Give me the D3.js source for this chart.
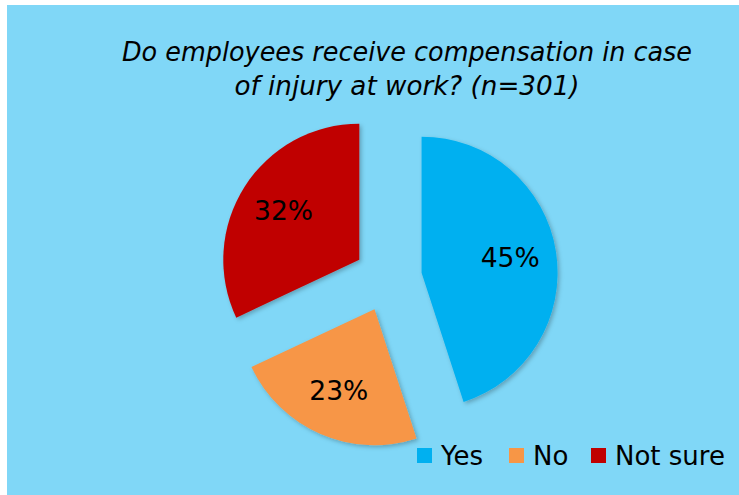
<!DOCTYPE html>
<html>
<head>
<meta charset="utf-8">
<script src="https://cdn.jsdelivr.net/npm/d3@7"></script>
<style>
    body { margin: 0; background: #fff; }
    text { font-family: "DejaVu Sans", Verdana, sans-serif; fill: #000; }
</style>
</head>
<body>
<div id="chart"></div>
<script>
// data
const categories = ['Yes', 'No', 'Not sure'];
const shares = [45, 23, 32];
const colors = ['#00b0f0', '#f79646', '#c00000'];
const titleLines = ['Do employees receive compensation in case', 'of injury at work? (n=301)'];

const width = 739, height = 495;

const svg = d3.select('#chart').append('svg')
    .attr('width', width)
    .attr('height', height);

// soft shadow under the slices
const shadow = svg.append('defs').append('filter')
    .attr('id', 'shadow')
    .attr('x', '-20%').attr('y', '-20%')
    .attr('width', '140%').attr('height', '140%');
shadow.append('feDropShadow')
    .attr('dx', 2).attr('dy', 2)
    .attr('stdDeviation', 2)
    .attr('flood-color', '#000')
    .attr('flood-opacity', 0.25);

// chart area background
svg.append('rect')
    .attr('x', 7).attr('y', 5)
    .attr('width', width - 7).attr('height', height - 5)
    .attr('fill', '#80d7f7');

// title
svg.append('g').selectAll('text')
    .data(titleLines)
    .join('text')
        .attr('x', 407)
        .attr('y', (d, i) => 61 + i * 34)
        .attr('text-anchor', 'middle')
        .style('font-style', 'italic')
        .style('font-size', '26px')
        .attr('textLength', (d, i) => i === 0 ? 570 : 345)
        .attr('lengthAdjust', 'spacingAndGlyphs')
        .text(d => d);

// pie
const radius = 136;
const explode = 34;
const cx = 388, cy = 278;

const pie = d3.pie().sort(null).value(d => d)(shares);
const arc = d3.arc().innerRadius(0).outerRadius(radius);

const pieG = svg.append('g')
    .attr('transform', `translate(${cx},${cy})`);

const slices = pieG.selectAll('.slice')
    .data(pie)
    .join('g')
        .attr('class', 'slice')
        .attr('transform', d => {
            const a = (d.startAngle + d.endAngle) / 2;
            return `translate(${explode * Math.sin(a)},${-explode * Math.cos(a)})`;
        });

slices.append('path')
    .attr('d', arc)
    .attr('fill', (d, i) => colors[i])
    .attr('filter', 'url(#shadow)');

slices.append('text')
    .attr('transform', d => {
        const a = (d.startAngle + d.endAngle) / 2;
        const r = radius * 0.66;
        return `translate(${r * Math.sin(a)},${-r * Math.cos(a)})`;
    })
    .attr('text-anchor', 'middle')
    .attr('dy', '0.3em')
    .style('font-size', '27px')
    .attr('textLength', 59)
    .attr('lengthAdjust', 'spacingAndGlyphs')
    .text(d => d.data + '%');

// legend
const legendX = [417, 509, 591];
const legend = svg.append('g').selectAll('g')
    .data(categories)
    .join('g')
        .attr('transform', (d, i) => `translate(${legendX[i]},448)`);

legend.append('rect')
    .attr('width', 15).attr('height', 15)
    .attr('fill', (d, i) => colors[i]);

legend.append('text')
    .attr('x', 24)
    .attr('y', 17)
    .style('font-size', '26px')
    .text(d => d);
</script>
</body>
</html>
